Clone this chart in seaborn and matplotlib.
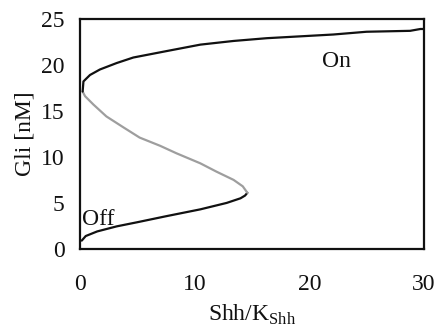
import matplotlib
matplotlib.use("Agg")
import matplotlib.pyplot as plt
import seaborn as sns
import pandas as pd

# Steady-state Gli levels versus Shh/K_Shh (S-shaped bistable response)
off_shh = [0.15, 0.5, 1.5, 3.2, 5.0, 7.5, 10.5, 12.8, 14.0, 14.4, 14.6]
off_gli = [0.9, 1.4, 1.9, 2.45, 2.9, 3.55, 4.3, 5.0, 5.5, 5.8, 6.1]

unstable_shh = [14.6, 14.2, 13.4, 11.9, 10.5, 8.4, 7.0, 5.2, 3.8, 2.3, 1.16, 0.44, 0.23]
unstable_gli = [6.1, 6.8, 7.5, 8.4, 9.3, 10.4, 11.2, 12.1, 13.2, 14.4, 15.7, 16.6, 17.1]

on_shh = [0.23, 0.3, 0.87, 1.74, 3.2, 4.65, 7.56, 10.5, 13.4, 16.3, 19.2, 22.1, 25.0, 28.8, 29.7, 30.0]
on_gli = [17.1, 18.2, 18.9, 19.5, 20.2, 20.8, 21.5, 22.2, 22.6, 22.9, 23.1, 23.3, 23.6, 23.7, 23.9, 23.9]

x_ticks = [0, 10, 20, 30]
y_ticks = [0, 5, 10, 15, 20, 25]

sns.set_theme(style="white")
plt.rcParams["font.family"] = ["Liberation Serif", "DejaVu Serif"]
plt.rcParams["mathtext.fontset"] = "custom"
plt.rcParams["mathtext.rm"] = "Liberation Serif"

fig = plt.figure(figsize=(4.42, 3.31), dpi=100)
ax = fig.add_axes([0.181, 0.248, 0.778, 0.695])

branches = [
    (off_shh, off_gli, "#111111"),
    (unstable_shh, unstable_gli, "#9e9e9e"),
    (on_shh, on_gli, "#111111"),
]
for xs, ys, col in branches:
    df = pd.DataFrame({"shh": xs, "gli": ys})
    sns.lineplot(data=df, x="shh", y="gli", sort=False, estimator=None,
                 color=col, linewidth=1.6, ax=ax)

ax.set_xlim(0, 30)
ax.set_ylim(0, 25)
ax.set_xticks(x_ticks)
ax.set_yticks(y_ticks)
ax.tick_params(axis="both", direction="out", length=6, width=1.3,
               labelsize=17, colors="#111111")
ax.tick_params(axis="x", pad=12)
ax.tick_params(axis="y", pad=5)
for s in ax.spines.values():
    s.set_color("#111111")
    s.set_linewidth(1.6)

ax.set_xlabel(r"Shh/K$_{\mathrm{Shh}}$", fontsize=17, color="#111111", labelpad=6)
ax.set_ylabel("Gli [nM]", fontsize=17, color="#111111", labelpad=4)

ax.text(22.4, 20.4, "On", fontsize=17, ha="center", va="center", color="#111111")
ax.text(0.15, 3.2, "Off", fontsize=17, ha="left", va="center", color="#111111")

fig.savefig("out.png", dpi=100)
